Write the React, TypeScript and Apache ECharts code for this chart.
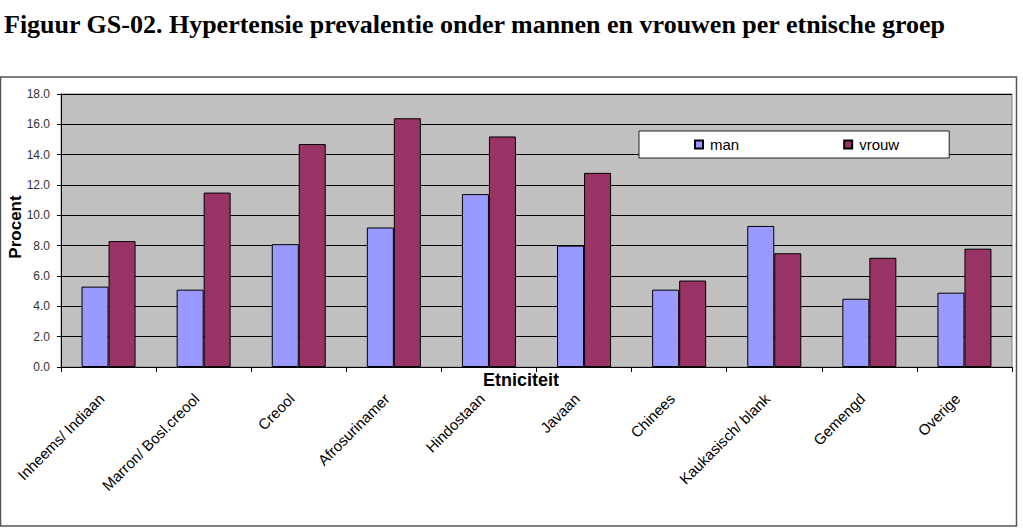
import React, { useEffect, useRef } from "react";
import * as echarts from "echarts";

const categories = [
  "Inheems/ Indiaan",
  "Marron/ Bosl.creool",
  "Creool",
  "Afrosurinamer",
  "Hindostaan",
  "Javaan",
  "Chinees",
  "Kaukasisch/ blank",
  "Gemengd",
  "Overige",
];
const manValues = [5.3, 5.1, 8.1, 9.2, 11.4, 8.0, 5.1, 9.3, 4.5, 4.9];
const vrouwValues = [8.3, 11.5, 14.7, 16.4, 15.2, 12.8, 5.7, 7.5, 7.2, 7.8];
const titleText = "Figuur GS-02. Hypertensie prevalentie onder mannen en vrouwen per etnische groep";

export default function App() {
  const ref = useRef<HTMLDivElement>(null);
  useEffect(() => {
    document.body.style.margin = "0";
    const chart = echarts.init(ref.current!, null, { renderer: "svg" });
    chart.setOption({
      animation: false,
      backgroundColor: "#ffffff",
      title: {
        text: titleText,
        left: 4,
        top: 11,
        padding: 0,
        textStyle: {
          fontFamily: "Liberation Serif",
          fontWeight: "bold",
          fontSize: 26,
          color: "#000",
        },
      },
      graphic: [
        {
          type: "rect",
          shape: { x: 0.5, y: 77, width: 1016, height: 449 },
          style: { fill: "none", stroke: "#555", lineWidth: 1.5 },
          z: 0,
        },
        {
          type: "text",
          x: 521,
          y: 371,
          style: {
            text: "Etniciteit",
            fontFamily: "Arial, Liberation Sans",
            fontWeight: "bold",
            fontSize: 18,
            fill: "#000",
            textAlign: "center",
            textVerticalAlign: "top",
          },
          z: 10,
        },
        {
          type: "text",
          x: 15,
          y: 227,
          rotation: Math.PI / 2,
          style: {
            text: "Procent",
            fontFamily: "Arial, Liberation Sans",
            fontWeight: "bold",
            fontSize: 17,
            fill: "#000",
            textAlign: "center",
            textVerticalAlign: "middle",
          },
          z: 10,
        },
      ],
      legend: {
        left: 639,
        top: 131,
        orient: "horizontal",
        backgroundColor: "#ffffff",
        borderColor: "#222",
        borderWidth: 1,
        borderRadius: 0,
        padding: [6, 50, 6, 55],
        itemGap: 104,
        itemWidth: 8,
        itemHeight: 8,
        icon: "rect",
        textStyle: {
          fontFamily: "Arial, Liberation Sans",
          fontSize: 15,
          color: "#000",
          padding: [0, 0, 0, 2],
        },
        data: ["man", "vrouw"],
      },
      grid: {
        left: 61,
        right: 11,
        top: 94,
        bottom: 162,
        containLabel: false,
        outerBoundsMode: "none",
        show: true,
        backgroundColor: "#c0c0c0",
        borderColor: "#808080",
        borderWidth: 1,
      },
      xAxis: {
        type: "category",
        data: categories,
        axisLine: { lineStyle: { color: "#000", width: 1 } },
        axisTick: { show: true, length: 5, interval: 0, alignWithLabel: false, lineStyle: { color: "#000" } },
        axisLabel: {
          interval: 0,
          rotate: 45,
          margin: 22,
          padding: [0, 10, 0, 0],
          fontFamily: "Arial, Liberation Sans",
          fontSize: 15,
          color: "#000",
        },
      },
      yAxis: {
        type: "value",
        min: 0,
        max: 18,
        interval: 2,
        axisLine: { show: true, lineStyle: { color: "#000", width: 1 } },
        axisTick: { show: true, length: 4, lineStyle: { color: "#000" } },
        axisLabel: {
          formatter: (v: number) => v.toFixed(1),
          fontFamily: "Arial, Liberation Sans",
          fontSize: 12,
          color: "#333",
          margin: 11,
        },
        splitLine: { show: true, lineStyle: { color: "#000", width: 1 } },
      },
      series: [
        {
          name: "man",
          type: "bar",
          data: manValues,
          barWidth: 27,
          barGap: "0%",
          itemStyle: { color: "#9999ff", borderColor: "#000", borderWidth: 1 },
        },
        {
          name: "vrouw",
          type: "bar",
          data: vrouwValues,
          barWidth: 27,
          barGap: "0%",
          itemStyle: { color: "#993366", borderColor: "#000", borderWidth: 1 },
        },
      ],
    });
    return () => chart.dispose();
  }, []);
  return <div ref={ref} style={{ width: 1023, height: 529 }} />;
}
